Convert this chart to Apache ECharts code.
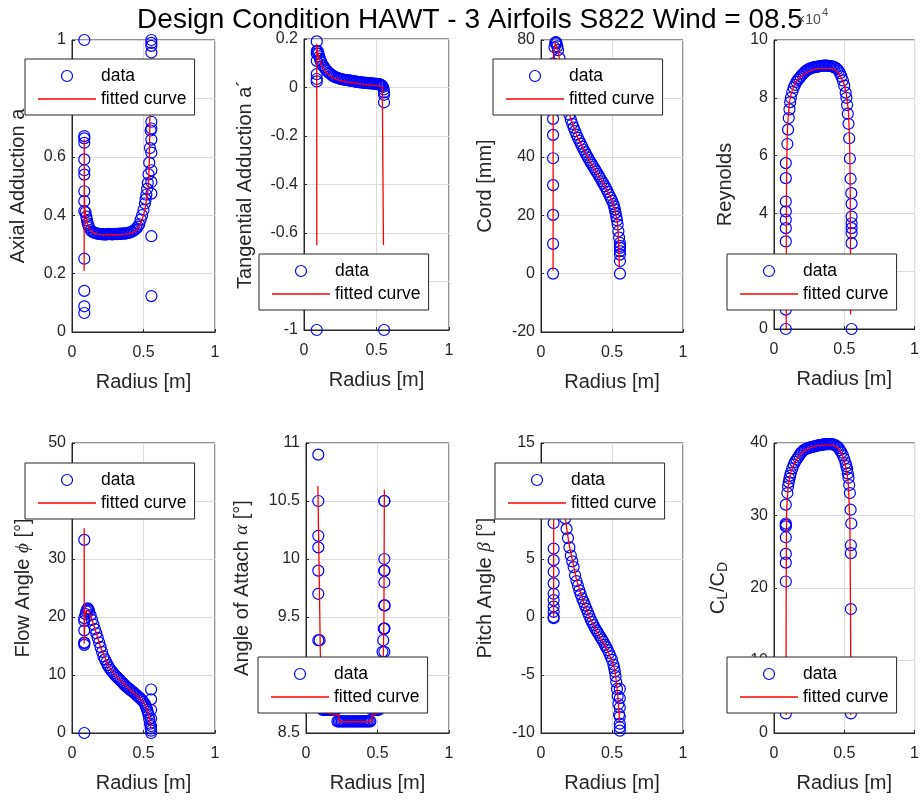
<!DOCTYPE html>
<html><head><meta charset="utf-8">
<script src="https://cdn.jsdelivr.net/npm/echarts@6/dist/echarts.min.js"></script>
<style>html,body{margin:0;padding:0;background:#fff}#c{width:922px;height:801px}</style>
</head><body><div id="c"></div>
<script>
// ---------- DATA ----------
const radiusMain = [0.095,0.10,0.105,0.11,0.115,0.12,0.13,0.14,0.15,0.16,0.17,0.18,0.19,0.20,0.21,0.22,0.23,0.24,0.25,0.26,0.27,0.28,0.29,0.30,0.31,0.32,0.33,0.34,0.35,0.36,0.37,0.38,0.39,0.40,0.41,0.42,0.43,0.44,0.45,0.46,0.47,0.48,0.49,0.50,0.51,0.515,0.52,0.525,0.53,0.535,0.54,0.545,0.55];
const hubRadius = [0.086,0.088,0.085,0.084,0.086,0.086,0.089,0.084];
const tipRadius = [0.555,0.552,0.556,0.552,0.553,0.548,0.555,0.547];

const axialMain = [0.41,0.395,0.383,0.372,0.365,0.358,0.349,0.344,0.341,0.339,0.338,0.337,0.336,0.335,0.335,0.334,0.334,0.334,0.335,0.336,0.335,0.334,0.335,0.336,0.335,0.336,0.337,0.336,0.337,0.338,0.337,0.338,0.339,0.340,0.342,0.344,0.347,0.350,0.355,0.361,0.369,0.385,0.400,0.418,0.440,0.455,0.47,0.49,0.51,0.54,0.58,0.63,0.69];
const axialHub = [1.0,0.671,0.663,0.648,0.591,0.554,0.539,0.482,0.448,0.414,0.251,0.141,0.088,0.065];
const axialTip = [1.0,0.99,0.98,0.957,0.72,0.697,0.659,0.614,0.554,0.514,0.474,0.328,0.123];
const axialFitR = [0.085,0.0853,0.0856,0.086,0.087,0.088,0.09,0.095,0.10,0.11,0.12,0.14,0.17,0.20,0.25,0.30,0.35,0.40,0.43,0.45,0.47,0.49,0.50,0.51,0.52,0.53,0.535,0.54,0.543,0.545,0.547];
const axialFitY = [0.21,0.45,0.66,0.55,0.47,0.44,0.42,0.405,0.39,0.368,0.355,0.343,0.336,0.334,0.333,0.333,0.334,0.337,0.342,0.348,0.362,0.385,0.40,0.42,0.45,0.48,0.52,0.57,0.65,0.75,0.88];

const tangMain = [0.15,0.14,0.128,0.118,0.11,0.103,0.092,0.083,0.075,0.068,0.062,0.057,0.052,0.048,0.045,0.042,0.040,0.038,0.036,0.034,0.033,0.032,0.031,0.030,0.029,0.028,0.027,0.026,0.025,0.024,0.023,0.022,0.021,0.021,0.020,0.019,0.019,0.018,0.018,0.017,0.017,0.016,0.016,0.015,0.014,0.014,0.013,0.012,0.011,0.009,0.006,0.002,-0.008];
const tangHub = [0.19,0.15,0.14,0.11,0.055,0.035,0.025,-1];
const tangTip = [-0.02,-0.03,-0.061,-1];
const tangFitR = [0.088,0.088,0.09,0.095,0.10,0.11,0.12,0.14,0.16,0.20,0.25,0.30,0.35,0.40,0.45,0.50,0.54,0.548,0.548];
const tangFitY = [-0.65,0.18,0.16,0.145,0.13,0.11,0.095,0.072,0.058,0.04,0.028,0.022,0.018,0.014,0.011,0.008,0.004,0.0,-0.65];

const cordMain = [77.5,79.0,79.3,78.8,77.8,76.5,73.8,70.6,67.3,64.0,61.0,58.4,56.2,54.4,52.8,51.3,50.0,48.8,47.6,46.5,45.5,44.5,43.5,42.5,41.6,40.7,39.8,38.9,38.1,37.3,36.5,35.7,34.9,34.1,33.3,32.5,31.6,30.8,29.9,29.0,28.0,27.0,26.0,25.0,23.8,23.0,22.0,20.8,19.5,18.3,16.8,14.5,12.3];
const cordHub = [0,10.2,20.1,30.3,39.5,47.5,53,60,66,72];
const cordTip = [10.5,9.5,8.8,7.7,6.5,4.3,0];
const cordFitR = [0.085,0.0855,0.09,0.10,0.105,0.11,0.12,0.14,0.16,0.18,0.20,0.25,0.30,0.35,0.40,0.45,0.50,0.52,0.54,0.547,0.552];
const cordFitY = [1,72,76,79,79.5,79,76.5,70.5,64,58.5,54.5,47.5,42.5,38,34,30,25,22,17,10,2];

const reyMain = [6.4,6.9,7.3,7.6,7.85,8.0,8.2,8.35,8.45,8.55,8.62,8.68,8.74,8.8,8.85,8.9,8.94,8.97,9.0,9.02,9.04,9.05,9.06,9.07,9.08,9.09,9.1,9.1,9.11,9.11,9.11,9.11,9.1,9.1,9.09,9.08,9.06,9.03,8.99,8.93,8.85,8.74,8.6,8.42,8.18,8.0,7.75,7.45,7.1,6.6,5.9,5.2,4.7];
const reyHub = [0,0.67,3.03,3.49,3.78,4.07,4.41,5.22,5.74];
const reyTip = [4.33,3.89,3.66,3.49,3.32,2.97,0];
const reyFitR = [0.087,0.0875,0.089,0.092,0.096,0.10,0.11,0.12,0.14,0.16,0.20,0.25,0.30,0.35,0.40,0.43,0.46,0.48,0.50,0.51,0.52,0.53,0.538,0.542,0.544,0.545];
const reyFitY = [0,3,5,6.2,6.9,7.3,7.85,8.1,8.4,8.58,8.78,8.92,9.0,9.02,9.02,8.98,8.85,8.68,8.45,8.25,7.95,7.5,6.5,5,2.5,0.5];

const phiMain = [20.5,21.0,21.3,21.5,21.3,21.0,20.3,19.5,18.7,17.9,17.2,16.4,15.6,14.8,14.0,13.2,12.7,12.2,11.7,11.3,10.9,10.6,10.3,10.0,9.75,9.5,9.25,9.0,8.75,8.5,8.25,8.0,7.8,7.6,7.4,7.2,7.0,6.8,6.55,6.35,6.1,5.9,5.65,5.35,5.0,4.7,4.4,4.0,3.6,3.1,2.4,1.6,0.8];
const phiHub = [33.3,19.8,19.3,17.7,15.6,15.2,15.5,0];
const phiTip = [7.5,5.8,4.0,2.5,1.2,0.4,0];
const phiFitR = [0.085,0.0853,0.0856,0.086,0.087,0.088,0.09,0.095,0.10,0.11,0.12,0.14,0.16,0.20,0.25,0.30,0.35,0.40,0.45,0.50,0.52,0.53,0.54,0.545,0.55];
const phiFitY = [15.4,35.3,17,21,16,19.5,20.2,20.8,21.2,21.3,20.9,19.5,18.0,14.8,11.8,10.0,8.8,7.6,6.5,5.3,4.4,3.7,2.5,1.8,1.0];

const alphaMain = [9.3,9.0,8.85,8.75,8.7,8.7,8.7,8.7,8.7,8.7,8.7,8.7,8.7,8.7,8.7,8.6,8.6,8.6,8.6,8.6,8.6,8.6,8.6,8.6,8.6,8.6,8.6,8.6,8.6,8.6,8.6,8.6,8.6,8.6,8.6,8.6,8.6,8.6,8.6,8.7,8.7,8.7,8.7,8.7,8.7,8.8,8.9,9.0,9.1,9.2,9.3,9.4,9.6];
const alphaHub = [10.9,10.5,10.2,10.1,9.9,9.7,9.3,9.0];
const alphaTip = [10.5,10.5,10.0,9.9,9.9,9.8,9.6,9.4,9.4,9.2];
const alphaFitR = [0.083,0.092,0.10,0.11,0.15,0.20,0.23,0.232,0.46,0.462,0.50,0.53,0.54,0.545,0.548];
const alphaFitY = [10.63,9.9,9.2,8.8,8.67,8.66,8.655,8.597,8.597,8.655,8.67,8.75,9.1,9.5,10.6];

const betaMain = [11.6,12.0,12.2,12.3,12.3,12.2,11.9,11.3,10.5,9.5,8.5,7.6,6.8,6.0,5.3,4.8,4.3,3.6,3.1,2.7,2.3,1.95,1.6,1.3,1.0,0.7,0.4,0.1,-0.2,-0.45,-0.7,-0.95,-1.15,-1.35,-1.55,-1.75,-1.95,-2.15,-2.4,-2.6,-2.85,-3.1,-3.4,-3.7,-4.1,-4.4,-4.7,-5.1,-5.6,-6.2,-6.8,-7.5,-8.4];
const betaHub = [8.1,5.9,4.9,3.9,2.9,2.0,1.46,0.9,0.45,0.0,-0.1];
const betaTip = [-6.2,-7.0,-7.8,-8.6,-9.2,-9.5,-9.8];
const betaFitR = [0.089,0.0895,0.095,0.10,0.11,0.12,0.14,0.16,0.18,0.20,0.25,0.30,0.35,0.40,0.45,0.50,0.52,0.53,0.54,0.55,0.553];
const betaFitY = [0,11,11.9,12.2,12.3,12.2,11.4,9.6,7.7,6.1,3.2,1.3,-0.25,-1.4,-2.45,-3.75,-4.6,-5.5,-6.7,-8.3,-9.0];

const clcdMain = [33.1,34.0,34.6,35.1,35.5,35.9,36.5,37.0,37.4,37.7,38.0,38.3,38.6,38.8,39.0,39.1,39.2,39.3,39.35,39.4,39.45,39.5,39.55,39.6,39.65,39.7,39.7,39.75,39.8,39.8,39.85,39.85,39.85,39.85,39.85,39.8,39.75,39.65,39.5,39.3,39.0,38.7,38.3,37.8,37.2,36.8,36.4,35.8,35.2,34.2,33.1,30.8,28.9];
const clcdHub = [2.7,20.9,23.5,24.7,27.0,28.5,28.9,28.7,31.5];
const clcdTip = [25.9,24.8,17.1,2.7];
const clcdFitR = [0.086,0.0865,0.088,0.09,0.095,0.10,0.11,0.12,0.14,0.16,0.20,0.25,0.30,0.35,0.40,0.43,0.46,0.48,0.50,0.52,0.53,0.54,0.545,0.546];
const clcdFitY = [2.5,18,27,30.5,32.5,33.8,35.2,36.0,37.0,37.7,38.7,39.3,39.6,39.7,39.7,39.6,39.2,38.6,37.6,35.8,34,29,15,2.5];

const xTicks = {min: 0, max: 1, interval: 0.5};
const yRanges = [[0,1,0.2],[-1,0.2,0.2],[-20,80,20],[0,10,2],[0,50,10],[8.5,11,0.5],[-10,15,5],[0,40,10]];
const yNames = ['Axial Adduction a','Tangential Adduction a\u00b4','Cord [mm]','Reynolds','Flow Angle {g|\u03d5} [°]','Angle of Attach {g|\u03b1} [°]','Pitch Angle {g|\u03b2} [°]','C{s|L}/C{s|D}'];
const titleText = 'Design Condition HAWT - 3 Airfoils S822 Wind = 08.5';

// ---------- LAYOUT ----------
const FONT = '"Liberation Sans", Arial, Helvetica, sans-serif';
const grids = [[72,40,143,292],[304,39,145,291],[541,40,142,292],[774,40,143,289],[72,443,143,290],[306,443,143,290],[541,443,142,290],[774,443,143,290]];
const nameGaps = [44,49,46,39,39,54,46,44];
const legendPos = [[25,59],[259,254],[493,59],[727,254],[25,463],[258,657],[495,463],[727,657]];

const mains = [axialMain,tangMain,cordMain,reyMain,phiMain,alphaMain,betaMain,clcdMain];
const hubs = [axialHub,tangHub,cordHub,reyHub,phiHub,alphaHub,betaHub,clcdHub];
const tips = [axialTip,tangTip,cordTip,reyTip,phiTip,alphaTip,betaTip,clcdTip];
const fitRs = [axialFitR,tangFitR,cordFitR,reyFitR,phiFitR,alphaFitR,betaFitR,clcdFitR];
const fitYs = [axialFitY,tangFitY,cordFitY,reyFitY,phiFitY,alphaFitY,betaFitY,clcdFitY];

const TXT = '#262626';
const option = {
  backgroundColor: '#fff',
  animation: false,
  title: {text: titleText, left: 465, textAlign: 'center', top: 1,
    textStyle: {fontFamily: FONT, fontSize: 28, fontWeight: 'normal', color: '#000'}},
  grid: [], xAxis: [], yAxis: [], series: [], legend: [],
  graphic: [
    {type: 'text', left: 797, top: 13, z: 100, style: {text: '\u00d710', font: '14px ' + FONT, fill: '#4d4d4d'}},
    {type: 'text', left: 822, top: 7, z: 100, style: {text: '4', font: '11px ' + FONT, fill: '#4d4d4d'}}
  ]
};

for (let i = 0; i < 8; i++) {
  const g = grids[i];
  option.grid.push({left: g[0], top: g[1], width: g[2], height: g[3], show: true,
    borderColor: TXT, borderWidth: 1, backgroundColor: '#fff', containLabel: false});
  option.xAxis.push({gridIndex: i, type: 'value', min: xTicks.min, max: xTicks.max, interval: xTicks.interval,
    name: 'Radius [m]', nameLocation: 'middle', nameGap: 40,
    nameTextStyle: {fontFamily: FONT, fontSize: 20, color: TXT},
    axisLine: {show: true, onZero: false, lineStyle: {color: TXT, width: 1}},
    axisTick: {show: true, inside: true, length: 3, lineStyle: {color: TXT}},
    axisLabel: {fontFamily: FONT, fontSize: 16, color: TXT, margin: 13},
    splitLine: {show: true, lineStyle: {color: '#dcdcdc', width: 1}}});
  const yr = yRanges[i];
  option.yAxis.push({gridIndex: i, type: 'value', min: yr[0], max: yr[1], interval: yr[2],
    name: yNames[i], nameLocation: 'middle', nameGap: nameGaps[i],
    nameTextStyle: {fontFamily: FONT, fontSize: 20, color: TXT,
      rich: {g: {fontFamily: '"Liberation Serif", serif', fontStyle: 'italic', fontSize: 19, color: TXT},
             s: {fontFamily: FONT, fontSize: 14, color: TXT, padding: [9, 0, 0, 0]}}},
    axisLine: {show: true, onZero: false, lineStyle: {color: TXT, width: 1}},
    axisTick: {show: true, inside: true, length: 3, lineStyle: {color: TXT}},
    axisLabel: {fontFamily: FONT, fontSize: 16, color: TXT, margin: 6},
    splitLine: {show: true, lineStyle: {color: '#dcdcdc', width: 1}}});

  const pts = [];
  hubs[i].forEach(v => pts.push([hubRadius[i], v]));
  mains[i].forEach((v, k) => pts.push([radiusMain[k], v]));
  tips[i].forEach(v => pts.push([tipRadius[i], v]));
  option.series.push({name: 'data', type: 'scatter', xAxisIndex: i, yAxisIndex: i, data: pts,
    symbol: 'circle', symbolSize: 11, clip: false, silent: true, z: 2,
    itemStyle: {color: 'rgba(0,0,0,0)', borderColor: '#0000ff', borderWidth: 1.2, opacity: 1}});
  option.series.push({name: 'fitted curve', type: 'line', xAxisIndex: i, yAxisIndex: i,
    data: fitRs[i].map((r, k) => [r, fitYs[i][k]]), symbol: 'none', showSymbol: false, silent: true, z: 3,
    lineStyle: {color: '#ff0000', width: 1.3}, itemStyle: {color: '#ff0000'}});

  const lp = legendPos[i];
  option.legend.push({left: lp[0], top: lp[1], orient: 'vertical', selectedMode: false,
    backgroundColor: '#fff', borderColor: TXT, borderWidth: 1, padding: [8, 8, 7, 13],
    itemWidth: 58, itemHeight: 11, itemGap: 5, z: 10,
    textStyle: {fontFamily: FONT, fontSize: 17.5, color: '#000', lineHeight: 18},
    data: [{name: 'data', icon: 'circle', itemStyle: {color: 'rgba(0,0,0,0)', borderColor: '#0000ff', borderWidth: 1.2}},
           {name: 'fitted curve', icon: 'path://M0,0L58,0L58,1.3L0,1.3Z', itemStyle: {color: '#ff0000', borderWidth: 0}}]});
}

const chart = echarts.init(document.getElementById('c'), null, {renderer: 'canvas'});
chart.setOption(option);
</script>
</body></html>
